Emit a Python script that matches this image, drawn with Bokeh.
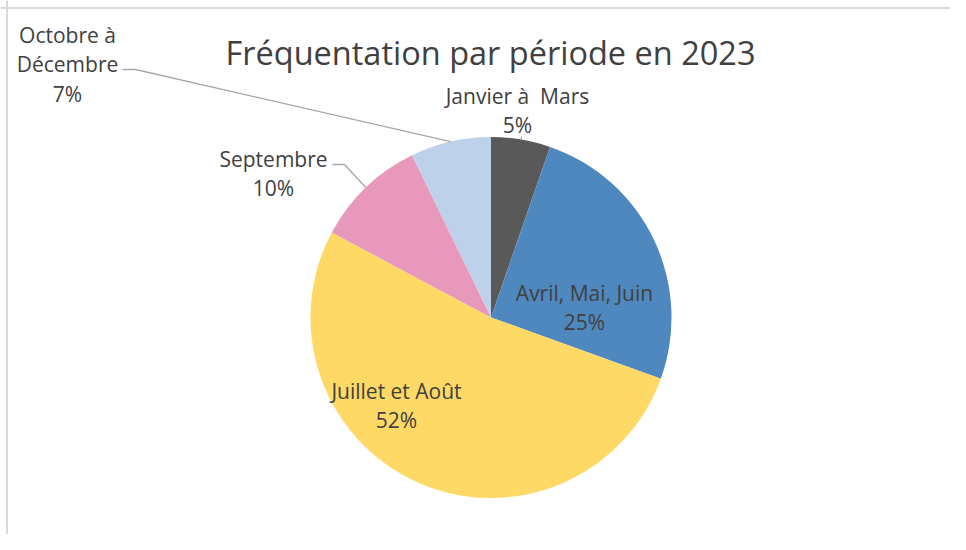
import math
from bokeh.plotting import figure
from bokeh.models import Range1d, Span, ColumnDataSource
from bokeh.core.properties import value
from bokeh.embed import file_html
from bokeh.resources import INLINE

# ---- data ----
categories = ["Janvier à  Mars", "Avril, Mai, Juin", "Juillet et Août", "Septembre", "Octobre à Décembre"]
shares = [5.3, 25.2, 52.3, 10.0, 7.2]
pct_labels = ["5%", "25%", "52%", "10%", "7%"]
label_lines = [["Janvier à\u00a0 Mars", "5%"],
               ["Avril, Mai, Juin", "25%"],
               ["Juillet et Août", "52%"],
               ["Septembre", "10%"],
               ["Octobre à", "Décembre", "7%"]]
colors = ["#595959", "#4F88BE", "#FFD966", "#E898BB", "#BDD1EA"]
title = "Fréquentation par période en 2023"

# ---- layout ----
W, H = 950, 534
def X(sx): return sx
def Y(sy): return H - sy

cx, cy, R = X(490.5), Y(317), 180.5
FONT = "Open Sans"
TXT = "#404040"

p = figure(width=W, height=H, x_range=Range1d(0, W), y_range=Range1d(0, H),
           output_backend="svg", toolbar_location=None, min_border=0)
p.axis.visible = False
p.grid.visible = False
p.outline_line_color = None
p.background_fill_color = "white"
p.border_fill_color = "white"

# wedges
total = sum(shares)
starts, ends, mids = [], [], []
cum = 0.0
for s in shares:
    a0 = math.pi / 2 - 2 * math.pi * cum / total
    cum += s
    a1 = math.pi / 2 - 2 * math.pi * cum / total
    starts.append(a0); ends.append(a1); mids.append((a0 + a1) / 2)
src = ColumnDataSource(dict(start=starts, end=ends, color=colors, cat=categories))
p.wedge(x=cx, y=cy, radius=R, start_angle="start", end_angle="end",
        direction="clock", fill_color="color", line_color=None, source=src)

# label anchor offsets (screen px of first line centre relative to pie centre)
label_pos = [(517 - 490.5, 95 - 317), (584 - 490.5, 292 - 317), (396 - 490.5, 390 - 317),
             (273 - 490.5, 158 - 317), (67 - 490.5, 34 - 317)]
LH = 29.5
tx, ty, tt = [], [], []
for (dx, dy), lines in zip(label_pos, label_lines):
    for k, line in enumerate(lines):
        tx.append(cx + dx); ty.append(cy - dy - k * LH); tt.append(line)
p.text(x=tx, y=ty, text=tt, text_font=value(FONT), text_font_size="21px",
       text_color=TXT, text_align="center", text_baseline="middle")

# leader lines (Septembre, Octobre à Décembre)
stubs = {3: ((332, 164), (344, 164)), 4: ((122, 69), (135, 69))}
for i, (a, b) in stubs.items():
    ex = cx + R * math.cos(mids[i]); ey = cy + R * math.sin(mids[i])
    p.line(x=[X(a[0]), X(b[0]), ex], y=[Y(a[1]), Y(b[1]), ey],
           line_color="#A6A6A6", line_width=1.3)
# tiny leader for Janvier
ex = cx + R * math.cos(mids[0]); ey = cy + R * math.sin(mids[0])
p.line(x=[ex, ex + 0.8], y=[ey, ey + 3], line_color="#A6A6A6", line_width=1.2)

# title
p.text(x=[X(490)], y=[Y(52)], text=[title], text_font=value(FONT),
       text_font_size="32.5px", text_color=TXT, text_align="center",
       text_baseline="middle")

# chart area border (top & left)
p.add_layout(Span(location=Y(7.5), dimension="width", line_color="#D9D9D9", line_width=2))
p.add_layout(Span(location=X(6.5), dimension="height", line_color="#D9D9D9", line_width=2))

open("out.html", "w").write(file_html(p, INLINE))
